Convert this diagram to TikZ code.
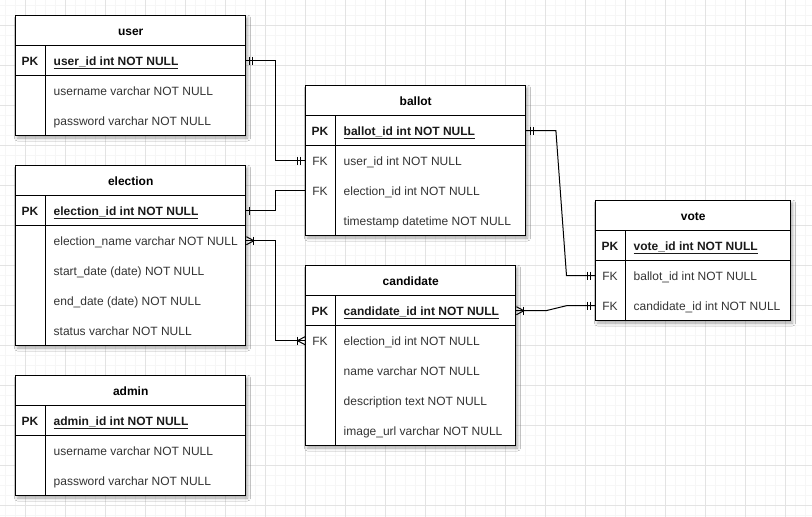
\documentclass[tikz,border=0pt]{standalone}
\usepackage{fontspec}
\setmainfont{Liberation Sans}
\usetikzlibrary{calc,shadows.blur}
\definecolor{gmaj}{HTML}{E3E3E3}
\definecolor{gmin}{HTML}{F6F6F6}
\definecolor{fldc}{HTML}{333333}
\definecolor{boldc}{HTML}{1A1A1A}

\tikzset{
  txt/.style={font=\fontsize{12}{14}\selectfont, inner sep=0pt},
  btxt/.style={font=\fontsize{12}{14}\selectfont\bfseries, inner sep=0pt},
  rowbox/.style={rectangle, minimum height=30pt, inner sep=0pt, anchor=north west},
  hdrtxt/.style={btxt, text=black, anchor=base},
  keyp/.style={btxt, text=boldc, anchor=base},
  keyf/.style={txt, text=fldc, anchor=base},
  keyn/.style={txt, text=fldc, anchor=base},
  fldp/.style={btxt, text=boldc, anchor=base west},
  fldf/.style={txt, text=fldc, anchor=base west},
  fldn/.style={txt, text=fldc, anchor=base west},
  tbl/.style={draw=black, line width=1pt},
  conn/.style={draw=black, line width=1pt},
  tshadow/.style={blur shadow={shadow xshift=2pt, shadow yshift=-2.5pt, shadow blur radius=3pt, shadow opacity=35}},
}

% #1 name #2 x #3 y #4 width #5 title #6 nrows #7 rows kind/key/text
\newcommand{\ertable}[7]{%
  \pgfmathsetmacro\erbot{#3+30*(#6+1)}
  \fill[white, tshadow] (#2,#3) rectangle ({#2+#4},\erbot);
  \node[rowbox, minimum width=#4] (#1) at (#2,#3) {};
  \node[hdrtxt] (#1-t) at ($(#1.center)+(0,4.5)$) {#5};
  \foreach \kind/\key/\txt [count=\i] in {#7} {
    \node[rowbox, minimum width=#4] (#1-\i) at (#2,{#3+30*\i}) {};
    \node[key\kind] (#1-k\i) at ($(#1-\i.west)+(14.5,4.5)$) {\key};
    \node[fld\kind] (#1-f\i) at ($(#1-\i.west)+(38,4.5)$) {\txt};
  }
  \draw[tbl] (#2,#3) rectangle ({#2+#4},\erbot);
  \draw[tbl] (#2,{#3+30}) -- ({#2+#4},{#3+30});
  \draw[tbl] (#2,{#3+60}) -- ({#2+#4},{#3+60});
  \draw[tbl] ({#2+30},{#3+30}) -- ({#2+30},\erbot);
}

\newcommand{\barat}[2]{\draw[conn] ($(#1)+(#2,-4)$) -- ($(#1)+(#2,4)$);}
\newcommand{\crowat}[3]{\draw[conn] ($(#1)+(#2,-4)$) -- ($(#1)+(#3,0)$) -- ($(#1)+(#2,4)$);}

\begin{document}
\begin{tikzpicture}[x=1pt, y=-1pt]
  \useasboundingbox (0,0) rectangle (812,517);
  \fill[white] (0,0) rectangle (812,517);
  % grid
  \foreach \x in {5,15,...,805} \draw[gmin, line width=1pt] (\x,0) -- (\x,517);
  \foreach \y in {5,15,...,515} \draw[gmin, line width=1pt] (0,\y) -- (812,\y);
  \foreach \x in {25,65,...,785} \draw[gmaj, line width=1pt] (\x,0) -- (\x,517);
  \foreach \y in {25,65,...,505} \draw[gmaj, line width=1pt] (0,\y) -- (812,\y);

  % tables
  \ertable{user}{15.5}{15.5}{230}{user}{3}{%
    p/PK/\underline{user\_id int NOT NULL},
    n/{}/username varchar NOT NULL,
    n/{}/password varchar NOT NULL}
  \ertable{election}{15.5}{165.5}{230}{election}{5}{%
    p/PK/\underline{election\_id int NOT NULL},
    n/{}/election\_name varchar NOT NULL,
    n/{}/start\_date (date) NOT NULL,
    n/{}/end\_date (date) NOT NULL,
    n/{}/status varchar NOT NULL}
  \ertable{admin}{15.5}{375.5}{230}{admin}{3}{%
    p/PK/\underline{admin\_id int NOT NULL},
    n/{}/username varchar NOT NULL,
    n/{}/password varchar NOT NULL}
  \ertable{ballot}{305.5}{85.5}{220}{ballot}{4}{%
    p/PK/\underline{ballot\_id int NOT NULL},
    f/FK/user\_id int NOT NULL,
    f/FK/election\_id int NOT NULL,
    n/{}/timestamp datetime NOT NULL}
  \ertable{candidate}{305.5}{265.5}{210}{candidate}{5}{%
    p/PK/\underline{candidate\_id int NOT NULL},
    f/FK/election\_id int NOT NULL,
    n/{}/name varchar NOT NULL,
    n/{}/description text NOT NULL,
    n/{}/image\_url varchar NOT NULL}
  \ertable{vote}{595.5}{200.5}{195}{vote}{3}{%
    p/PK/\underline{vote\_id int NOT NULL},
    f/FK/ballot\_id int NOT NULL,
    f/FK/candidate\_id int NOT NULL}

  % connectors
  \coordinate (c4) at ($(vote-2.west)+(-29,0)$);
  \coordinate (c5) at ($(vote-3.west)+(-29,0)$);
  \draw[conn] (user-1.east) -- ++(30,0) |- (ballot-2.west);
  \draw[conn] (election-1.east) -- ++(30,0) |- (ballot-3.west);
  \draw[conn] (election-2.east) -- ++(30,0) |- (candidate-2.west);
  \draw[conn] (ballot-1.east) -- ++(30,0) -- (c4) -- (vote-2.west);
  \draw[conn] (candidate-1.east) -- ++(30,0) -- (c5) -- (vote-3.west);

  % ER marks
  \barat{user-1.east}{4}  \barat{user-1.east}{7}
  \barat{ballot-2.west}{-8}  \barat{ballot-2.west}{-5}
  \barat{election-1.east}{4}
  \crowat{election-2.east}{0.5}{8}  \barat{election-2.east}{8}
  \crowat{candidate-2.west}{-0.5}{-8}  \barat{candidate-2.west}{-8}
  \barat{ballot-1.east}{5}  \barat{ballot-1.east}{8}
  \barat{vote-2.west}{-8}  \barat{vote-2.west}{-5}
  \crowat{candidate-1.east}{0.5}{8}  \barat{candidate-1.east}{8}
  \barat{vote-3.west}{-8}  \barat{vote-3.west}{-5}
\end{tikzpicture}
\end{document}
